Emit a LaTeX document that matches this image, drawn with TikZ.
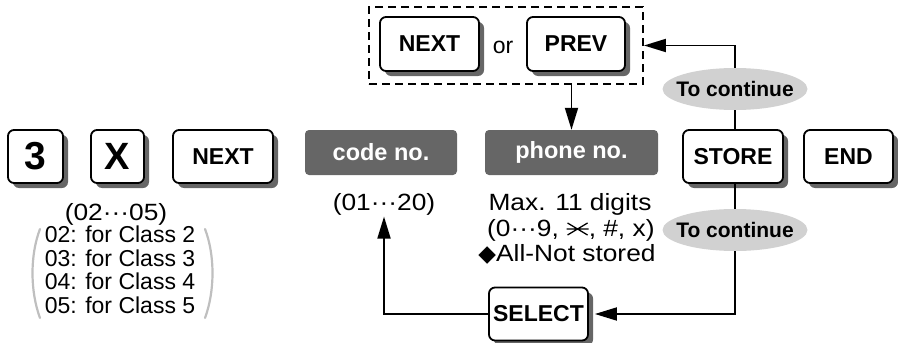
\documentclass[tikz,border=0pt]{standalone}
\usepackage{fontspec}
\setmainfont{Liberation Sans}
\newfontfamily\widesans[FakeStretch=1.12]{Liberation Sans}
\newfontfamily\djv{DejaVu Sans}
\usetikzlibrary{shapes.geometric,shadows,arrows.meta}
\begin{document}
\begin{tikzpicture}[x=1pt,y=-1pt,
  keybox/.style={draw,line width=1.8pt,rounded corners=6pt,fill=white,
    drop shadow={shadow xshift=5pt,shadow yshift=-5pt,fill=black!60,opacity=1},
    minimum height=53pt,inner sep=0pt,font=\fontsize{23}{23}\selectfont\bfseries},
  darkbox/.style={fill=black!60,rounded corners=4pt,minimum height=45pt,inner sep=0pt,
    text=white,font=\fontsize{23.5}{23.5}\selectfont\bfseries},
  oval/.style={ellipse,fill=black!18,minimum width=145pt,minimum height=42pt,
    inner xsep=-12pt,inner ysep=0pt,font=\fontsize{21}{21}\selectfont\bfseries},
  txt/.style={font=\fontsize{23}{24}\selectfont,inner sep=0pt,anchor=base},
  wtxt/.style={font=\widesans\fontsize{23.5}{24}\selectfont,inner sep=0pt,anchor=base},
  arr/.style={line width=1.8pt,-{Triangle[length=22pt,width=13pt]}},
  conn/.style={line width=1.8pt},
  sym/.style={line width=1.3pt},
  paren/.style={line width=2.2pt,draw=black!25,line cap=round}]
\useasboundingbox (0,0) rectangle (898,343);

% keys row
\node[keybox,minimum width=55pt,font=\fontsize{39}{39}\selectfont\bfseries] (k3) at (35.5,156.5) {3};
\node[keybox,minimum width=53pt,font=\fontsize{38}{38}\selectfont\bfseries] (kX) at (117.5,156.5) {X};
\node[keybox,minimum width=100pt] (kNextA) at (223,156.5) {NEXT};
\node[darkbox,minimum width=152pt] (code) at (381,152.5) {code no.};
\node[darkbox,minimum width=173pt] (phone) at (571.5,152.5) {phone no.};
\node[keybox,minimum width=100pt] (kStore) at (733,156.5) {STORE};
\node[keybox,minimum width=89pt] (kEnd) at (848.5,156.5) {END};

% top group
\node[draw,dash pattern=on 8pt off 5pt,line width=1.8pt,minimum width=274pt,minimum height=77pt,inner sep=0pt] (dbox) at (506,45.5) {};
\node[keybox,minimum width=99pt,minimum height=54pt] (kNextB) at (429.5,44) {NEXT};
\node[txt] (or) at (503,53.5) {or};
\node[keybox,minimum width=98pt,minimum height=54pt] (kPrev) at (576,44) {PREV};

% select
\node[keybox,minimum width=99pt] (kSelect) at (538.5,314) {SELECT};

% ovals
\node[oval] (e1) at (735,89) {To continue};
\node[oval] (e2) at (735,230) {To continue};

% texts
\node[wtxt] (r0205) at (116,220.5) {(02···05)};
\node[txt] (l2) at (120,242.5) {02: for Class 2};
\node[txt] (l3) at (120,266) {03: for Class 3};
\node[txt] (l4) at (120,289.5) {04: for Class 4};
\node[txt] (l5) at (120,313) {05: for Class 5};
\node[wtxt] (c01) at (384,210.5) {(01···20)};
\node[wtxt] (maxA) at (570,210.5) {Max. 11 digits};
\node[wtxt,anchor=base west] (maxB1) at (487,236.5) {(0···9,};
\coordinate (star) at ([shift={(18.5,-7.5)}]maxB1.base east);
\node[wtxt,anchor=base west] (maxB2) at ([xshift=29.5pt]maxB1.base east) {, \#, x)};
\node[wtxt] (maxC) at (567,261) {{\djv\fontsize{23}{23}\selectfont ◆}All-Not stored};

% star key symbol
\draw[sym] ([xshift=-11pt]star) -- ([xshift=11pt]star)
           ([shift={(-10,-6)}]star) -- ([shift={(10,6)}]star)
           ([shift={(-10,6)}]star) -- ([shift={(10,-6)}]star);

% parentheses of the list
\draw[paren] (40,229) .. controls (30,255) and (30,291) .. (40,318);
\draw[paren] (205,229) .. controls (215,255) and (215,291) .. (205,318);

% connectors
\draw[arr] (phone.north |- dbox.south) -- (phone.north);
\draw[conn] (kStore.north -| e1) -- (e1.south);
\draw[arr] (e1.north) |- (dbox.east);
\draw[conn] (kStore.south -| e2) -- (e2.north);
\draw[arr] (e2.south) |- ([xshift=6pt]kSelect.east);
\draw[arr] (kSelect.west) -| ([yshift=-1pt]c01.south);
\end{tikzpicture}
\end{document}
